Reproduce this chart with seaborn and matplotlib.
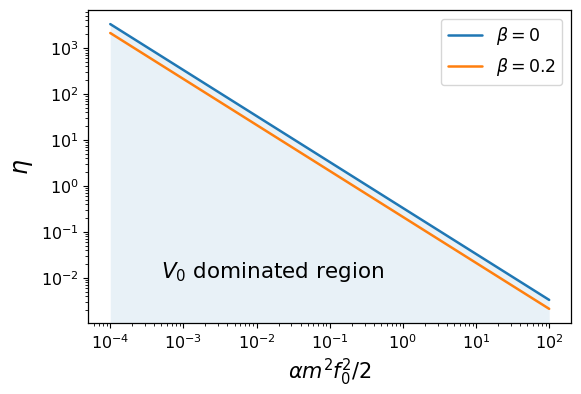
import numpy as np
import pandas as pd
import matplotlib
matplotlib.use("Agg")
import matplotlib.pyplot as plt
import seaborn as sns

sns.set_style("ticks")
plt.rcParams["font.family"] = ["DejaVu Sans"]
plt.rcParams["mathtext.fontset"] = "dejavusans"
plt.rcParams["text.color"] = "black"
plt.rcParams["axes.labelcolor"] = "black"
plt.rcParams["xtick.color"] = "black"
plt.rcParams["ytick.color"] = "black"

# Values (straight lines on log-log axes)
x_vals = [1e-4, 1e-3, 1e-2, 1e-1, 1e0, 1e1, 1e2]
eta_beta0 = [3330, 333, 33.3, 3.33, 0.333, 0.0333, 0.00333]
eta_beta02 = [2130, 213, 21.3, 2.13, 0.213, 0.0213, 0.00213]
labels = [r"$\beta = 0$", r"$\beta = 0.2$"]

df = pd.DataFrame({
    "x": x_vals * 2,
    "eta": eta_beta0 + eta_beta02,
    "beta": [labels[0]] * len(x_vals) + [labels[1]] * len(x_vals),
})

fig, ax = plt.subplots(figsize=(5.81, 3.94), dpi=100)
fig.subplots_adjust(left=0.152, right=0.983, top=0.975, bottom=0.180)

sns.lineplot(data=df, x="x", y="eta", hue="beta",
             palette=["#1f77b4", "#ff7f0e"], linewidth=1.8, ax=ax)
ax.set_xscale("log")
ax.set_yscale("log")
ylo, yhi = ax.get_ylim()

ax.fill_between(x_vals, ylo, eta_beta0, color="#1f77b4", alpha=0.1, linewidth=0)
ax.set_ylim(ylo, yhi)

ax.text(5e-4, 1e-2, r"$V_0$ dominated region", fontsize=15.5, va="baseline")

ax.set_xlabel(r"$\alpha m^2 f_0^2/2$", fontsize=15)
ax.set_ylabel(r"$\eta$", fontsize=17)
ax.tick_params(axis="both", which="major", labelsize=11.5, length=3.5, width=0.8)
ax.tick_params(axis="both", which="minor", length=2, width=0.6)
for sp in ax.spines.values():
    sp.set_linewidth(0.9)
    sp.set_color("black")

leg = ax.legend(loc="upper right", fontsize=12.5, title=None)

fig.savefig("out.png", dpi=100)
